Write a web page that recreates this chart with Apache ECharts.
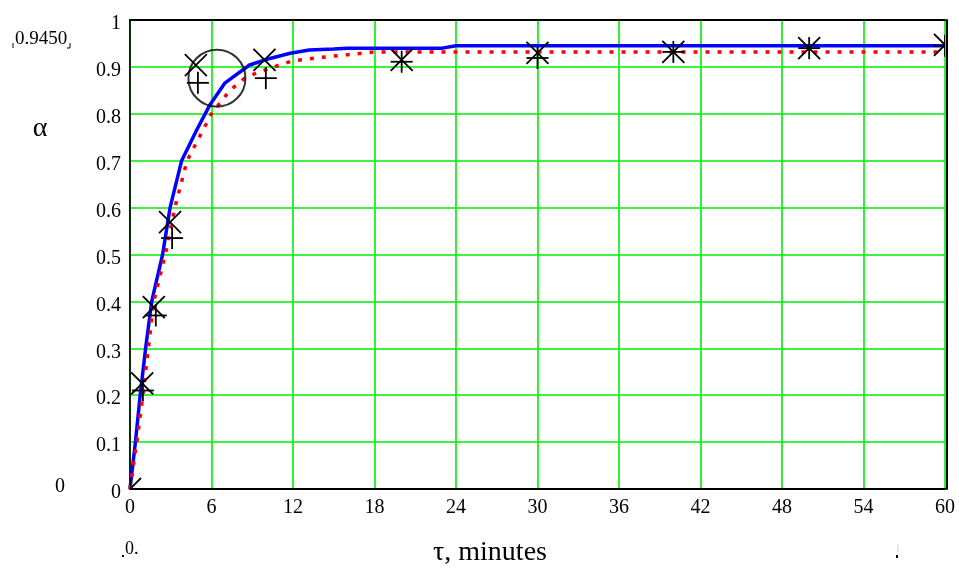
<!DOCTYPE html>
<html>
<head>
<meta charset="utf-8">
<script src="https://cdn.jsdelivr.net/npm/echarts@6/dist/echarts.min.js"></script>
<style>
html,body{margin:0;padding:0;background:#fff;}
#chart{width:959px;height:570px;}
</style>
</head>
<body>
<div id="chart"></div>
<script>
// ---- data ----
var xTicks = [0, 6, 12, 18, 24, 30, 36, 42, 48, 54, 60];
var blueCurve = [[0,0],[0.4,0.1],[0.75,0.2],[1.15,0.3],[1.6,0.4],[2.4,0.5],[2.95,0.6],[3.8,0.7],[4.9,0.765],[5.9,0.82],[7,0.866],[8.8,0.904],[10.3,0.918],[11.8,0.929],[13.2,0.936],[15,0.938],[16,0.94],[23,0.94],[24,0.945],[60,0.945]];
var redCurve = [[0,0],[0.5,0.1],[0.95,0.2],[1.35,0.3],[1.75,0.4],[2.6,0.5],[3.3,0.6],[4.2,0.7],[6,0.8],[7.35,0.85],[8.45,0.876],[9.3,0.887],[11,0.904],[12,0.913],[14,0.92],[16,0.926],[18,0.932],[60,0.932]];
var crossPoints = [[0,0],[0.9,0.225],[1.75,0.388],[2.95,0.569],[4.85,0.904],[9.9,0.915],[20,0.915],[30,0.93],[40,0.932],[50,0.94],[60,0.947]];
var plusPoints = [[0,0],[0.95,0.21],[1.9,0.37],[3.1,0.535],[5,0.866],[10,0.876],[20,0.911],[30,0.919],[40,0.932],[50,0.94],[60,0.945]];
var circlePoint = [[6.4,0.876]];

var serif = '"Liberation Serif", "DejaVu Serif", serif';

function markerRender(kind) {
  return function (params, api) {
    var p = api.coord([api.value(0), api.value(1)]);
    var h = 11;
    var st = {stroke:'#000', lineWidth:1.8};
    var children;
    if (kind === 'x') {
      children = [
        {type:'line', shape:{x1:p[0]-h, y1:p[1]-h, x2:p[0]+h, y2:p[1]+h}, style:st},
        {type:'line', shape:{x1:p[0]-h, y1:p[1]+h, x2:p[0]+h, y2:p[1]-h}, style:st}
      ];
    } else {
      children = [
        {type:'line', shape:{x1:p[0]-h, y1:p[1], x2:p[0]+h, y2:p[1]}, style:st},
        {type:'line', shape:{x1:p[0], y1:p[1]-h, x2:p[0], y2:p[1]+h}, style:st}
      ];
    }
    return {type:'group', children:children};
  };
}

var chart = echarts.init(document.getElementById('chart'), null, {renderer:'canvas'});
chart.setOption({
  animation: false,
  backgroundColor: '#fff',
  grid: {left:130, right:14, top:20, bottom:81, show:false},
  xAxis: [{
    type:'value', min:0, max:60, interval:6,
    axisLine:{show:true, onZero:false, lineStyle:{color:'#000', width:2}},
    axisTick:{show:false},
    axisLabel:{color:'#000', fontFamily:serif, fontSize:20, margin:9},
    splitLine:{show:true, lineStyle:{color:'#00ee00', width:1.6}}
  },{
    type:'value', min:0, max:60, position:'top',
    axisLine:{show:true, onZero:false, lineStyle:{color:'#000', width:2}},
    axisTick:{show:false}, axisLabel:{show:false}, splitLine:{show:false}
  }],
  yAxis: [{
    type:'value', min:0, max:1, interval:0.1,
    axisLine:{show:true, onZero:false, lineStyle:{color:'#0a2a0a', width:2}},
    axisTick:{show:false},
    axisLabel:{color:'#000', fontFamily:serif, fontSize:20, margin:9, verticalAlign:'top', padding:[-6,0,0,0],
      formatter:function(v){ return (v === 0 || v === 1) ? String(v) : v.toFixed(1); }},
    splitLine:{show:true, lineStyle:{color:'#00ee00', width:1.6}}
  },{
    type:'value', min:0, max:1, position:'right', offset:2,
    axisLine:{show:true, onZero:false, lineStyle:{color:'#000', width:2}},
    axisTick:{show:false}, axisLabel:{show:false}, splitLine:{show:false}
  }],
  series: [
    {type:'line', data:blueCurve, showSymbol:false, symbol:'none', clip:true,
      lineStyle:{color:'#0000ff', width:3.5}, z:3},
    {type:'line', data:redCurve, showSymbol:false, symbol:'none', clip:true,
      lineStyle:{color:'#ff0000', width:3.5, type:[4,8]}, z:4},
    {type:'custom', data:crossPoints, renderItem:markerRender('x'), clip:true, z:5},
    {type:'custom', data:plusPoints, renderItem:markerRender('+'), clip:true, z:5},
    {type:'scatter', data:circlePoint, symbol:'circle', symbolSize:57,
      itemStyle:{color:'rgba(0,0,0,0)', borderColor:'#000', borderWidth:2}, z:5}
  ],
  graphic: [
    {type:'text', style:{text:'α', x:40, y:129, font:'28px '+serif, fill:'#000', align:'center', verticalAlign:'middle'}},
    {type:'text', style:{text:'τ, minutes', x:490, y:553, font:'28px '+serif, fill:'#000', align:'center', verticalAlign:'middle'}},
    {type:'text', style:{text:'0.9450', x:15, y:39, font:'19px '+serif, fill:'#000', align:'left', verticalAlign:'middle'}},
    {type:'line', shape:{x1:13, y1:43, x2:13, y2:48}, style:{stroke:'#000', lineWidth:1}},
    {type:'line', shape:{x1:70, y1:43, x2:70, y2:48}, style:{stroke:'#000', lineWidth:1}},
    {type:'line', shape:{x1:67, y1:48, x2:70, y2:48}, style:{stroke:'#000', lineWidth:1}},
    {type:'text', style:{text:'0', x:60, y:487, font:'20px '+serif, fill:'#000', align:'center', verticalAlign:'middle'}},
    {type:'text', style:{text:'0.0', x:125, y:549, font:'18px '+serif, fill:'#000', align:'left', verticalAlign:'middle', width:20, overflow:'truncate', ellipsis:''}},
    {type:'rect', shape:{x:122, y:555, width:2, height:2}, style:{fill:'#000'}},
    {type:'rect', shape:{x:896, y:555, width:2, height:3}, style:{fill:'#000'}},
    {type:'line', shape:{x1:898, y1:545, x2:898, y2:552}, style:{stroke:'#ccc', lineWidth:1}}
  ]
});
</script>
</body>
</html>
